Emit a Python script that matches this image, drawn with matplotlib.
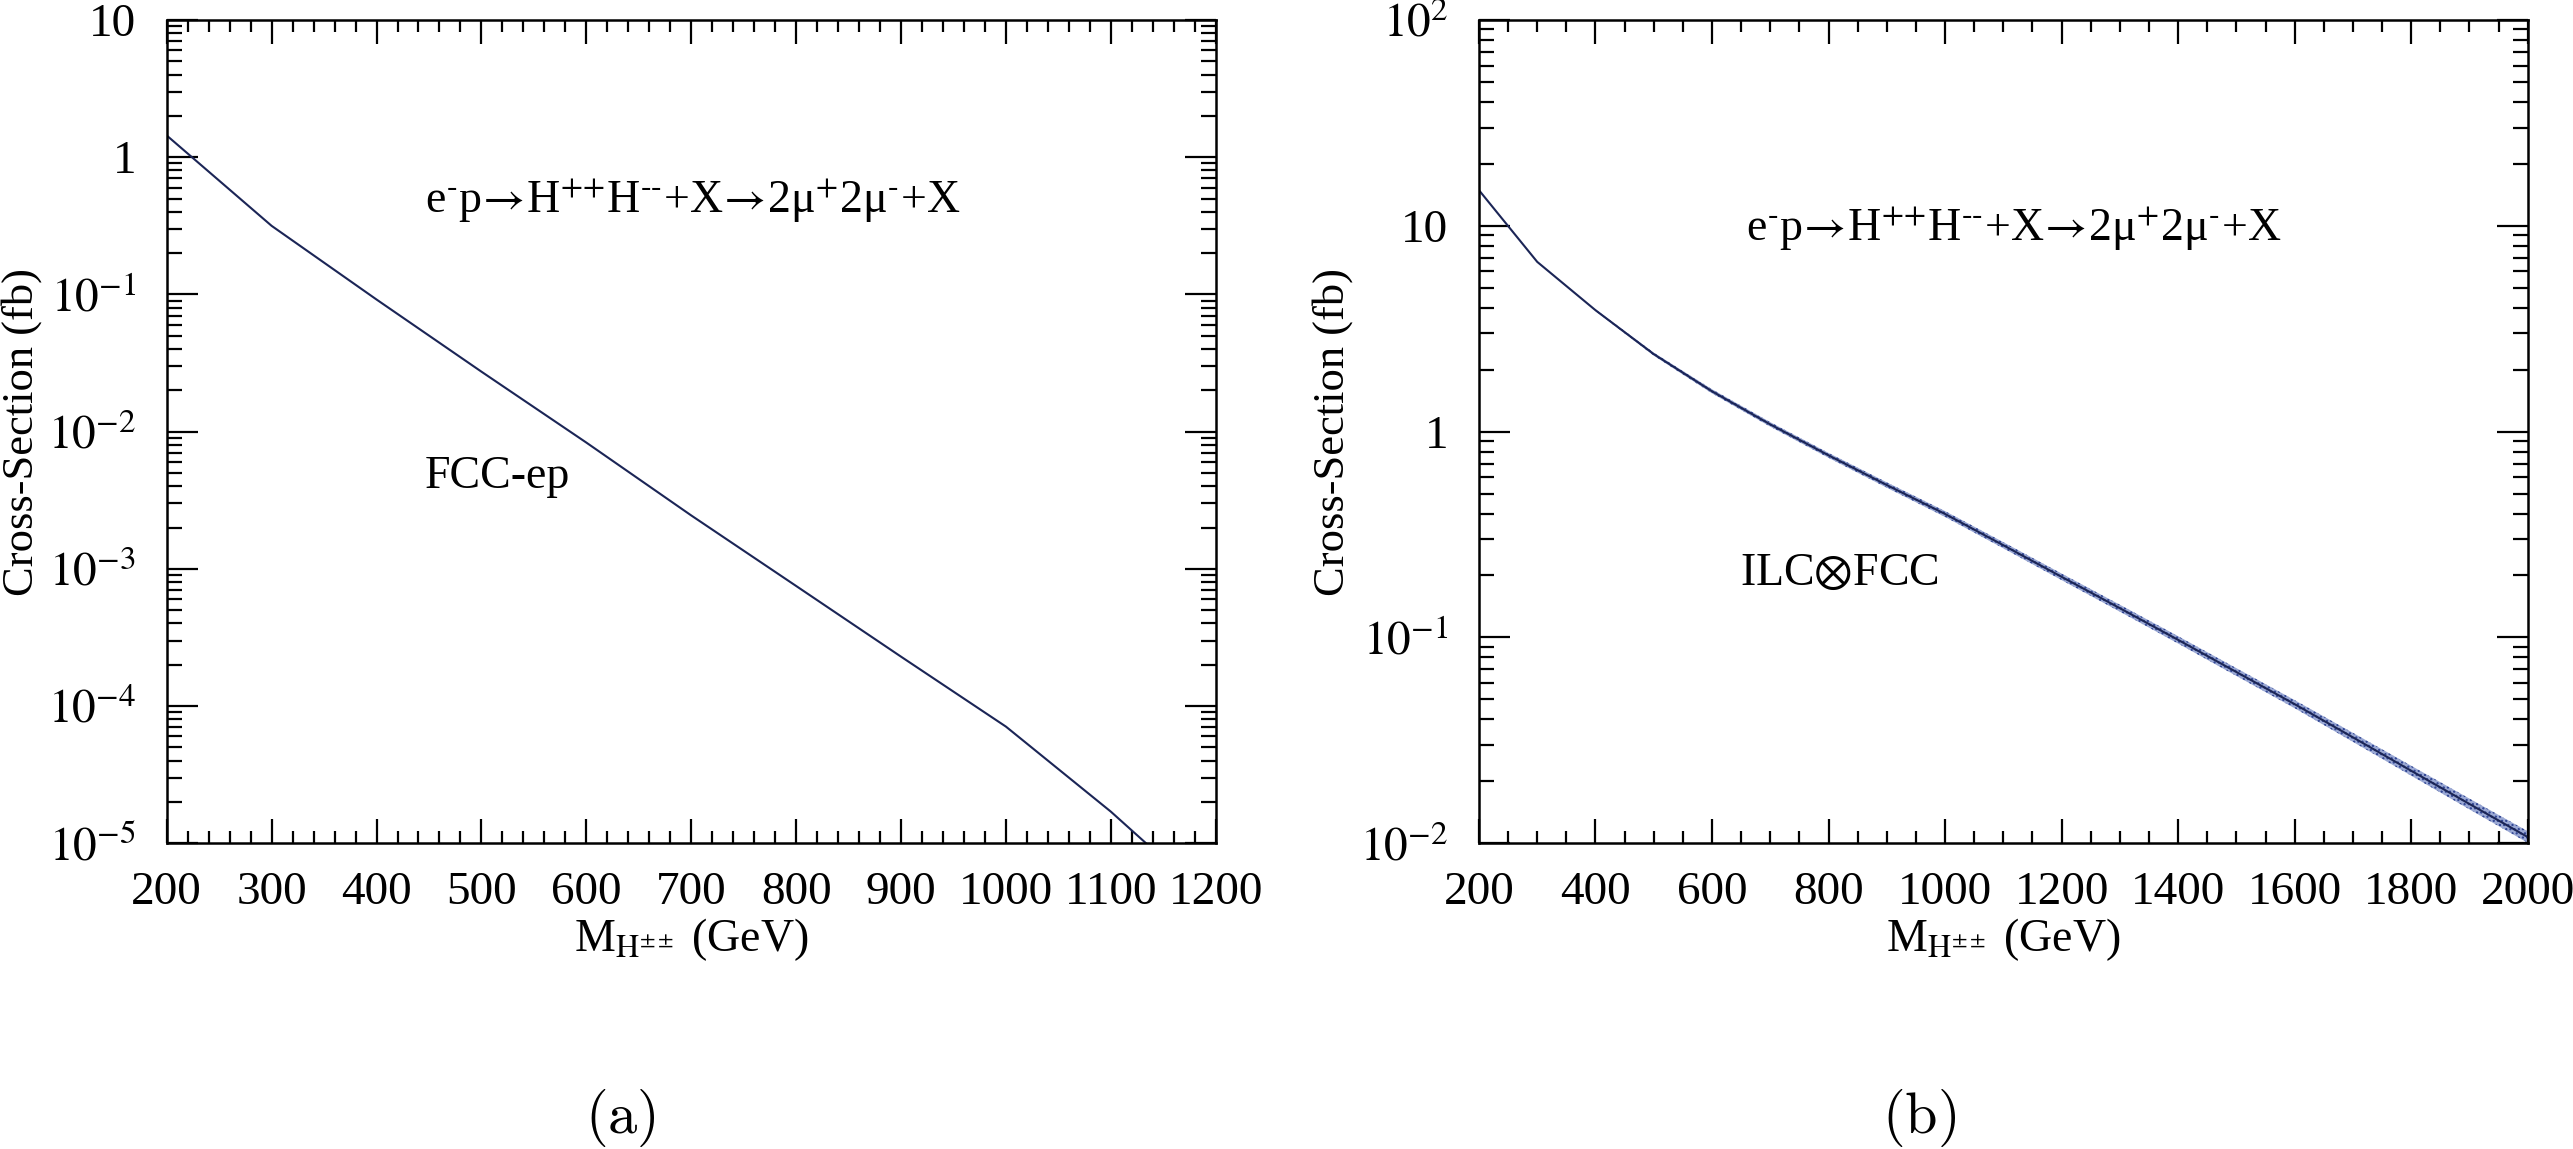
import numpy as np
import matplotlib
matplotlib.use('Agg')
import matplotlib.pyplot as plt
from matplotlib.ticker import MultipleLocator, LogLocator, NullFormatter

plt.rcParams['font.family'] = ['Liberation Serif', 'DejaVu Serif']
plt.rcParams['mathtext.fontset'] = 'stix'

# (a) FCC-ep
massa_a = [200, 300, 400, 500, 600, 700, 800, 900, 1000, 1100, 1200]
sigma_a = [1.44, 0.316, 0.0918, 0.02735, 0.00832, 0.00245, 7.5e-4, 2.29e-4, 7.08e-5, 1.70e-5, 3.5e-6]

# (b) ILC x FCC
massa_b = [200, 300, 400, 500, 600, 700, 800, 900, 1000, 1100, 1200, 1300, 1400,
           1500, 1600, 1700, 1800, 1900, 2000]
sigma_b = [14.9, 6.68, 3.89, 2.38, 1.57, 1.084, 0.767, 0.550, 0.398, 0.2805, 0.197, 0.1387,
           0.0973, 0.0679, 0.0474, 0.0327, 0.0225, 0.01552, 0.01072]

# faixa de incerteza em (b)
massa_faixa = [400, 500, 600, 700, 800, 900, 1000, 1100, 1200, 1300, 1400, 1500, 1600,
               1700, 1800, 1900, 2000]
faixa_sup = [3.93, 2.42, 1.607, 1.112, 0.788, 0.567, 0.411, 0.2903, 0.2044, 0.1442, 0.1014,
             0.0709, 0.0496, 0.0344, 0.0238, 0.01648, 0.01144]
faixa_inf = [3.85, 2.34, 1.534, 1.057, 0.746, 0.534, 0.385, 0.2710, 0.1899, 0.1334, 0.0934,
             0.0650, 0.0453, 0.0311, 0.0213, 0.01461, 0.01005]

yticks_a = [1e1, 1e0, 1e-1, 1e-2, 1e-3, 1e-4, 1e-5]
ylabels_a = ['10', '1', r'$10^{-1}$', r'$10^{-2}$', r'$10^{-3}$', r'$10^{-4}$', r'$10^{-5}$']
yticks_b = [1e2, 1e1, 1e0, 1e-1, 1e-2]
ylabels_b = [r'$10^{2}$', '10', '1', r'$10^{-1}$', r'$10^{-2}$']
xticks_a = [200, 300, 400, 500, 600, 700, 800, 900, 1000, 1100, 1200]
xticks_b = [200, 400, 600, 800, 1000, 1200, 1400, 1600, 1800, 2000]

processo = (r'e$^{\text{-}}$p$\!\rightarrow\!$H$^{\text{++}}$H$^{\text{--}}$+X'
            r'$\!\rightarrow\!$2μ$^{\text{+}}$2μ$^{\text{-}}$+X')
cor = '#1b2556'

fig = plt.figure(figsize=(25.73, 11.49), dpi=100)
ax1 = fig.add_axes([0.0648, 0.2661, 0.4077, 0.7165])
ax2 = fig.add_axes([0.5748, 0.2661, 0.4076, 0.7165])


def estilo(ax, xmaj, xmin):
    ax.set_yscale('log')
    ax.xaxis.set_major_locator(MultipleLocator(xmaj))
    ax.xaxis.set_minor_locator(MultipleLocator(xmin))
    ax.yaxis.set_minor_locator(LogLocator(base=10, subs=np.arange(2, 10), numticks=20))
    ax.yaxis.set_minor_formatter(NullFormatter())
    ax.tick_params(which='both', direction='in', top=True, right=True, width=1.6, colors='black')
    ax.tick_params(axis='y', which='major', length=22, pad=22, labelsize=34)
    ax.tick_params(axis='y', which='minor', length=11)
    ax.tick_params(axis='x', which='major', length=17, pad=20, labelsize=34)
    ax.tick_params(axis='x', which='minor', length=8.6)
    for s in ax.spines.values():
        s.set_linewidth(1.8)
    ax.set_xlabel(r'M$_{\mathrm{H}^{\pm\pm}}$ (GeV)', fontsize=33, labelpad=2)
    ax.set_ylabel('Cross-Section (fb)', fontsize=32)


# painel (a)
estilo(ax1, 100, 20)
ax1.plot(massa_a, sigma_a, color=cor, lw=1.5)
ax1.set_xlim(200, 1200)
ax1.set_ylim(1e-5, 10)
ax1.set_xticks(xticks_a)
ax1.set_yticks(yticks_a, ylabels_a)
ax1.yaxis.set_label_coords(-0.119, 0.5)
ax1.text(446, 0.392, processo, fontsize=33)
ax1.text(446, 0.0039, 'FCC-ep', fontsize=33)

# painel (b)
estilo(ax2, 200, 50)
ax2.fill_between(massa_faixa, faixa_inf, faixa_sup, facecolor='#9aa8d4', edgecolor='#2a3f8f',
                 hatch='....', lw=0)
ax2.plot(massa_b, sigma_b, color=cor, lw=1.5)
ax2.set_xlim(200, 2000)
ax2.set_ylim(1e-2, 1e2)
ax2.set_xticks(xticks_b)
ax2.set_yticks(yticks_b, ylabels_b)
ax2.yaxis.set_label_coords(-0.12, 0.5)
ax2.text(658, 8.47, processo, fontsize=33)
ax2.text(648, 0.179, r'ILC$\otimes$FCC', fontsize=33)

fig.text(0.241, 0.027, r'$\mathrm{(a)}$', fontsize=42, ha='center', va='center', math_fontfamily='cm')
fig.text(0.746, 0.027, r'$\mathrm{(b)}$', fontsize=42, ha='center', va='center', math_fontfamily='cm')

plt.savefig('out.png', dpi=100)
